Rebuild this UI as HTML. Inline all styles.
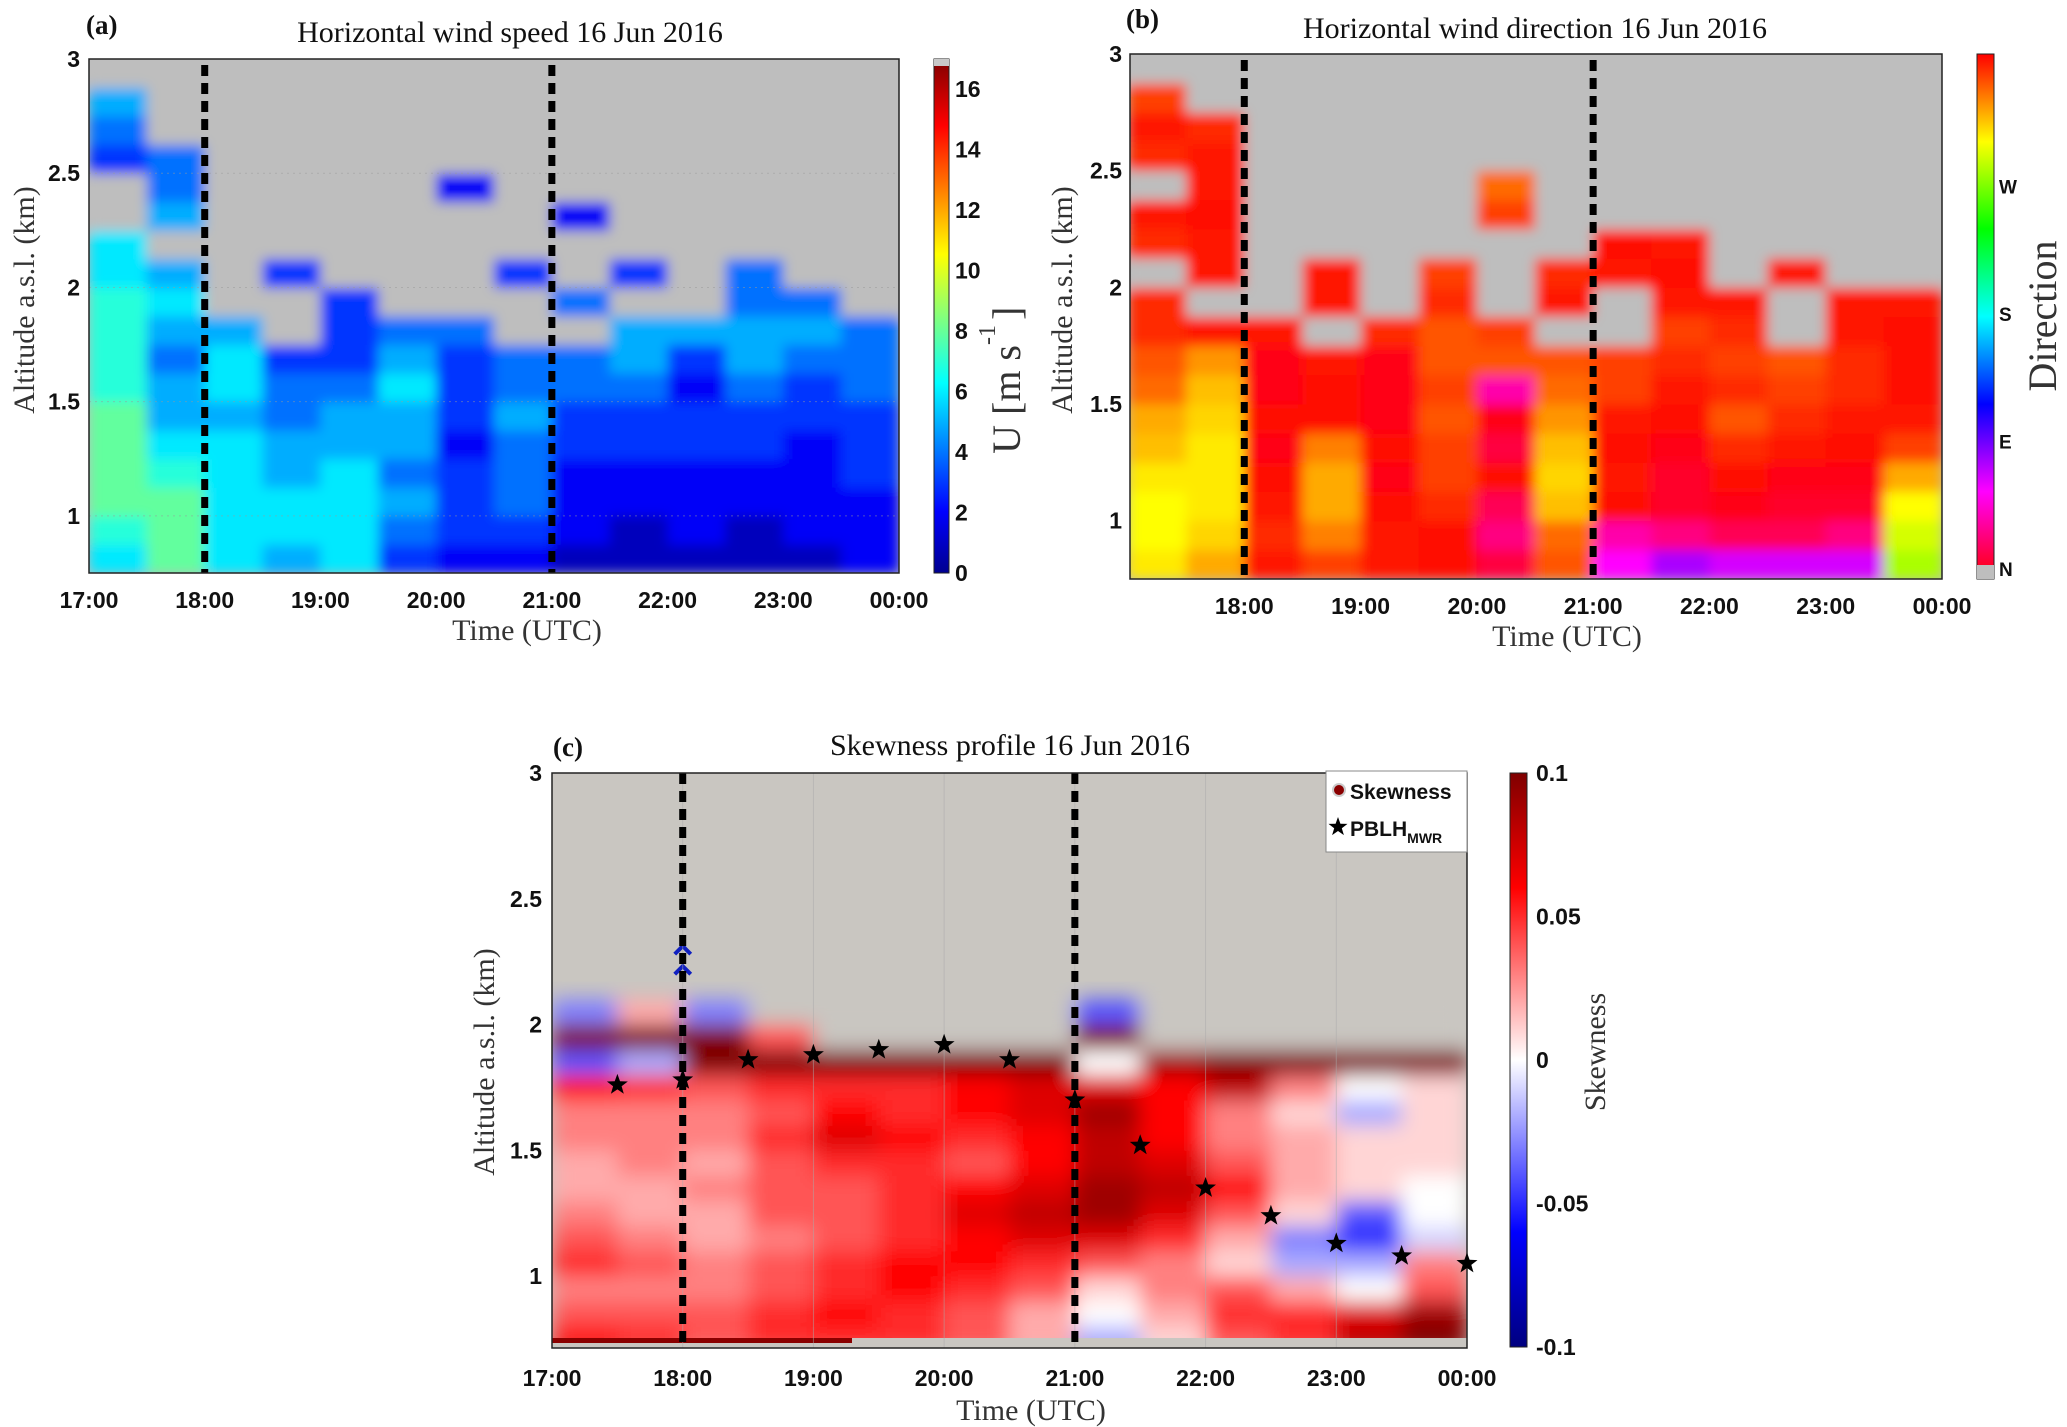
<!DOCTYPE html>
<html><head><meta charset="utf-8">
<style>
html,body{margin:0;padding:0;background:#fff;}
svg{display:block;}
.tk{font-family:"Liberation Sans",sans-serif;font-weight:bold;font-size:23px;fill:#111;}
.ttl{font-family:"Liberation Serif",serif;font-size:30px;fill:#111;}
.lab{font-family:"Liberation Serif",serif;font-size:30px;fill:#333;}
.pl{font-family:"Liberation Serif",serif;font-weight:bold;font-size:27px;fill:#111;}
</style></head>
<body>
<svg id="fig" width="2067" height="1427" viewBox="0 0 2067 1427" xmlns="http://www.w3.org/2000/svg">
<defs>
<clipPath id="clipA"><rect x="89" y="59" width="810" height="514"/></clipPath>
<clipPath id="clipB"><rect x="1130" y="54" width="812" height="525"/></clipPath>
<clipPath id="clipC"><rect x="552" y="773" width="915" height="575"/></clipPath>
<filter id="blA" x="-5%" y="-5%" width="110%" height="110%"><feGaussianBlur stdDeviation="6"/></filter>
<filter id="blC" x="-5%" y="-5%" width="110%" height="110%"><feGaussianBlur stdDeviation="10"/></filter>
<linearGradient id="jetGrad" x1="0" y1="1" x2="0" y2="0">
<stop offset="0" stop-color="#00008f"/><stop offset="0.12" stop-color="#0000ff"/><stop offset="0.37" stop-color="#00ffff"/><stop offset="0.62" stop-color="#ffff00"/><stop offset="0.87" stop-color="#ff0000"/><stop offset="1" stop-color="#800000"/>
</linearGradient>
<linearGradient id="hsvGrad" x1="0" y1="1" x2="0" y2="0">
<stop offset="0" stop-color="#ff0000"/><stop offset="0.167" stop-color="#ff00ff"/><stop offset="0.333" stop-color="#0000ff"/><stop offset="0.5" stop-color="#00ffff"/><stop offset="0.667" stop-color="#00ff00"/><stop offset="0.833" stop-color="#ffff00"/><stop offset="1" stop-color="#ff0000"/>
</linearGradient>
<linearGradient id="bwrGrad" x1="0" y1="1" x2="0" y2="0">
<stop offset="0" stop-color="#00007f"/><stop offset="0.2" stop-color="#0000ff"/><stop offset="0.5" stop-color="#ffffff"/><stop offset="0.8" stop-color="#ff0000"/><stop offset="1" stop-color="#7f0000"/>
</linearGradient>
</defs>
</svg>
<script>
// ---------- data ----------
const hours = ["17:00","18:00","19:00","20:00","21:00","22:00","23:00","00:00"];
const markerHours = [1, 4];
const altTicksAB = [1, 1.5, 2, 2.5, 3];
const altTicksC = [1, 1.5, 2, 2.5, 3];
const speedTicks = [0,2,4,6,8,10,12,14,16];
const dirTicks = ["N","E","S","W"];
const skewTicks = [-0.1,-0.05,0,0.05,0.1];
// wind speed (m/s), rows bottom(0.75km) to top(3km) step 0.125, cols 30-min from 17:00; -1 = no data
const speedRows = [
[6,8,6,5,6,3,2,2,1,1,1,1,1,2],
[7,8,6,6,6,4,3,3,2,1,2,1,2,2],
[8,8,6,6,6,5,3,4,2,2,2,2,2,2],
[8,7,6,5,6,4,3,4,2,2,2,2,2,3],
[8,6,6,5,5,5,2,4,3,3,3,3,2,3],
[8,5,5,4,5,5,3,5,3,3,3,3,3,3],
[7,5,6,4,4,6,3,4,4,4,2,4,3,4],
[7,4,6,3,3,5,3,4,4,5,3,5,4,4],
[7,5,5,-1,3,4,4,-1,-1,5,5,5,5,4],
[7,6,-1,-1,3,-1,-1,-1,4,-1,-1,4,4,-1],
[6,5,-1,3,-1,-1,-1,3,-1,3,-1,4,-1,-1],
[6,-1,-1,-1,-1,-1,-1,-1,-1,-1,-1,-1,-1,-1],
[-1,5,-1,-1,-1,-1,-1,-1,2,-1,-1,-1,-1,-1],
[-1,4,-1,-1,-1,-1,2,-1,-1,-1,-1,-1,-1,-1],
[3,4,-1,-1,-1,-1,-1,-1,-1,-1,-1,-1,-1,-1],
[4,-1,-1,-1,-1,-1,-1,-1,-1,-1,-1,-1,-1,-1],
[5,-1,-1,-1,-1,-1,-1,-1,-1,-1,-1,-1,-1,-1],
[-1,-1,-1,-1,-1,-1,-1,-1,-1,-1,-1,-1,-1,-1]
];
// wind direction (deg), same grid
const dirRows = [
[305,320,355,345,355,358,15,340,60,80,70,70,70,280],
[300,310,350,330,355,358,30,335,40,30,20,20,30,290],
[300,305,355,320,358,350,20,315,358,10,5,10,10,300],
[305,305,358,320,5,345,358,310,355,10,358,5,5,320],
[315,305,5,330,358,345,15,315,358,5,350,355,358,345],
[320,310,358,358,5,340,5,325,355,358,340,350,355,355],
[335,315,5,358,5,345,40,335,345,355,350,345,350,358],
[340,325,5,355,5,340,340,340,345,350,345,340,350,358],
[350,355,355,-1,350,340,345,-1,-1,345,350,-1,355,358],
[350,-1,-1,355,-1,350,-1,355,-1,355,355,-1,355,355],
[-1,355,-1,355,-1,345,-1,350,355,358,-1,355,-1,-1],
[350,355,-1,-1,-1,-1,-1,-1,358,355,-1,-1,-1,-1],
[355,358,-1,-1,-1,-1,345,-1,-1,-1,-1,-1,-1,-1],
[-1,355,-1,-1,-1,-1,335,-1,-1,-1,-1,-1,-1,-1],
[350,355,-1,-1,-1,-1,-1,-1,-1,-1,-1,-1,-1,-1],
[355,350,-1,-1,-1,-1,-1,-1,-1,-1,-1,-1,-1,-1],
[345,-1,-1,-1,-1,-1,-1,-1,-1,-1,-1,-1,-1,-1],
[-1,-1,-1,-1,-1,-1,-1,-1,-1,-1,-1,-1,-1,-1]
];
// skewness, rows bottom 0.7 km step 0.1 up to 2.1 km; null = no data
const skewRows = [
[0.06,0.05,0.04,0.05,0.05,0.05,0.04,0.02,-0.02,0.01,0.04,0.05,0.08,0.1],
[0.04,0.04,0.04,0.05,0.06,0.05,0.04,0.02,0.0,0.02,0.05,0.05,0.07,0.09],
[0.03,0.03,0.03,0.04,0.05,0.06,0.05,0.04,0.01,0.03,0.04,0.02,0.0,0.04],
[0.05,0.04,0.03,0.04,0.05,0.06,0.06,0.05,0.04,0.03,0.01,-0.02,-0.02,0.03],
[0.04,0.03,0.02,0.03,0.04,0.05,0.06,0.07,0.07,0.05,0.02,-0.03,-0.05,-0.01],
[0.03,0.02,0.02,0.04,0.04,0.05,0.07,0.08,0.09,0.07,0.04,0.01,-0.04,0.0],
[0.02,0.02,0.03,0.04,0.04,0.05,0.06,0.07,0.09,0.08,0.06,0.02,0.01,0.0],
[0.02,0.03,0.02,0.04,0.05,0.05,0.04,0.06,0.08,0.07,0.04,0.02,0.01,0.01],
[0.03,0.03,0.03,0.05,0.07,0.06,0.05,0.06,0.08,0.06,0.03,0.02,0.01,0.01],
[0.03,0.03,0.03,0.04,0.06,0.05,0.06,0.07,0.09,0.06,0.03,0.01,-0.02,0.01],
[0.06,0.05,0.04,0.05,0.05,0.05,0.06,0.07,0.07,0.06,0.08,0.03,0.0,0.01],
[-0.04,-0.02,0.1,0.1,0.1,0.1,0.1,0.1,0.0,0.09,0.1,0.1,0.1,0.1],
[0.1,0.1,0.1,0.04,null,null,null,null,0.1,null,null,null,null,null],
[-0.03,0.02,-0.03,null,null,null,null,null,-0.04,null,null,null,null,null]
];
const starTimes = [0.5,1,1.5,2,2.5,3,3.5,4,4.5,5,5.5,6,6.5,7];
const starAlts = [1.76,1.78,1.86,1.88,1.9,1.92,1.86,1.70,1.52,1.35,1.24,1.13,1.08,1.05];

// ---------- helpers ----------
const NS="http://www.w3.org/2000/svg";
const svg=document.getElementById('fig');
function mk(tag,attrs,parent){const e=document.createElementNS(NS,tag);for(const k in attrs)e.setAttribute(k,attrs[k]);(parent||svg).appendChild(e);return e;}
function clamp(v){return Math.max(0,Math.min(1,v));}
function jet(t){return `rgb(${Math.round(255*clamp(1.5-Math.abs(4*t-3)))},${Math.round(255*clamp(1.5-Math.abs(4*t-2)))},${Math.round(255*clamp(1.5-Math.abs(4*t-1)))})`;}
function hsvDir(deg){const h=((360-deg)%360+360)%360;const c=1,x=1-Math.abs((h/60)%2-1);let r,g,b;
 if(h<60){r=c;g=x;b=0}else if(h<120){r=x;g=c;b=0}else if(h<180){r=0;g=c;b=x}else if(h<240){r=0;g=x;b=c}else if(h<300){r=x;g=0;b=c}else{r=c;g=0;b=x}
 return `rgb(${Math.round(r*255)},${Math.round(g*255)},${Math.round(b*255)})`;}
function bwr(v){const t=v/0.1;let r,g,b;
 if(t>=0){ if(t<0.6){const s=t/0.6;r=1;g=1-s;b=1-s;} else {const s=(t-0.6)/0.4;r=1-0.5*s;g=0;b=0;} }
 else { const a=-t; if(a<0.6){const s=a/0.6;r=1-s;g=1-s;b=1;} else {const s=(a-0.6)/0.4;r=0;g=0;b=1-0.5*s;} }
 return `rgb(${Math.round(r*255)},${Math.round(g*255)},${Math.round(b*255)})`;}

function panel(cfg){
 const {x0,x1,y0,y1,amin,amax}=cfg;
 const X=h=>x0+(h/7)*(x1-x0);
 const Y=a=>y1-(a-amin)/(amax-amin)*(y1-y0);
 return {X,Y};
}
function heat(g,rows,rowStart,rowStep,P,colorFn,isNull,gray){
 const nC=rows[0].length, cw=7/nC;
 rows.forEach((row,ri)=>{
  row.forEach((v,ci)=>{
   const xa=P.X(ci*cw), xb=P.X((ci+1)*cw);
   const ya=P.Y(rowStart+(ri+1)*rowStep), yb=P.Y(rowStart+ri*rowStep);
   const r=mk('rect',{x:xa,y:ya,width:xb-xa+0.5,height:yb-ya+0.5,fill:isNull(v)?gray:colorFn(v)},g);
   
   
  });
 });
}
function txt(s,attrs,cls,name){const t=mk('text',Object.assign({class:cls},attrs));t.textContent=s;return t;}
function dashed(P,y0,y1,name){markerHours.forEach(h=>{const l=mk('line',{x1:P.X(h),x2:P.X(h),y1:y0,y2:y1,stroke:'#000','stroke-width':7,'stroke-dasharray':'11 7'});});}

// ---------- Panel A ----------
(function(){
 const c={x0:89,x1:899,y0:59,y1:573,amin:0.75,amax:3};
 const P=panel(c);
 const g=mk('g',{'clip-path':'url(#clipA)'});
 mk('rect',{x:89,y:59,width:810,height:514,fill:'#bebebe'},g);
 const gb=mk('g',{filter:'url(#blA)'},g);
 heat(gb,speedRows,0.75,0.125,P,v=>jet(v/17),v=>v<0,'#bebebe');
 altTicksAB.forEach(a=>{mk('line',{x1:89,x2:899,y1:P.Y(a),y2:P.Y(a),stroke:'#999','stroke-width':1,'stroke-dasharray':'2 4',opacity:0.5},g);});
 dashed(P,65,573,'marker-line-a');
 mk('rect',{x:89,y:59,width:810,height:514,fill:'none',stroke:'#222','stroke-width':1.5});
 hours.forEach((h,i)=>{txt(h,{x:P.X(i),y:608,'text-anchor':'middle'},'tk','x-tick-label-a');});
 altTicksAB.forEach(a=>{txt(String(a),{x:80,y:P.Y(a)+8,'text-anchor':'end'},'tk','y-tick-label-a');});
 txt('Horizontal wind speed 16 Jun 2016',{x:510,y:42,'text-anchor':'middle'},'ttl','title-a');
 txt('(a)',{x:86,y:34},'pl','panel-label-a');
 txt('Time (UTC)',{x:527,y:640,'text-anchor':'middle'},'lab','x-axis-title-a');
 txt('Altitude a.s.l.  (km)',{x:0,y:0,'text-anchor':'middle',transform:'translate(34,300) rotate(-90)'},'lab','y-axis-title-a');
 const cb=mk('rect',{x:934,y:59,width:15,height:514,fill:'url(#jetGrad)',stroke:'#222','stroke-width':1});
 mk('rect',{x:934,y:59,width:15,height:7,fill:'#c8c8c8'});
 speedTicks.forEach(s=>{const y=573-s/17*514;txt(String(s),{x:955,y:y+8},'tk','colorbar-tick-a');});
 txt('U [m s',{x:0,y:0,'text-anchor':'end',transform:'translate(1020,345) rotate(-90)',style:'font-size:40px'},'lab','colorbar-title-a');
 txt('-1',{x:0,y:0,transform:'translate(995,345) rotate(-90)',style:'font-size:24px'},'lab','colorbar-title-exp-a');
 txt(']',{x:0,y:0,transform:'translate(1020,320) rotate(-90)',style:'font-size:40px'},'lab','colorbar-title-bracket-a');
})();

// ---------- Panel B ----------
(function(){
 const c={x0:1128,x1:1942,y0:54,y1:579,amin:0.75,amax:3};
 const P=panel(c);
 const g=mk('g',{'clip-path':'url(#clipB)'});
 mk('rect',{x:1128,y:54,width:814,height:525,fill:'#bebebe'},g);
 const gb=mk('g',{filter:'url(#blA)'},g);
 heat(gb,dirRows,0.75,0.125,P,hsvDir,v=>v<0,'#bebebe');
 dashed(P,60,579,'marker-line-b');
 mk('rect',{x:1130,y:54,width:812,height:525,fill:'none',stroke:'#222','stroke-width':1.5});
 hours.forEach((h,i)=>{if(i>0)txt(h,{x:P.X(i),y:614,'text-anchor':'middle'},'tk','x-tick-label-b');});
 altTicksAB.forEach(a=>{txt(String(a),{x:1122,y:P.Y(a)+8,'text-anchor':'end'},'tk','y-tick-label-b');});
 txt('Horizontal wind direction 16 Jun 2016',{x:1535,y:38,'text-anchor':'middle'},'ttl','title-b');
 txt('(b)',{x:1126,y:28},'pl','panel-label-b');
 txt('Time (UTC)',{x:1567,y:646,'text-anchor':'middle'},'lab','x-axis-title-b');
 txt('Altitude a.s.l.  (km)',{x:0,y:0,'text-anchor':'middle',transform:'translate(1072,300) rotate(-90)'},'lab','y-axis-title-b');
 const cb=mk('rect',{x:1977,y:54,width:17,height:525,fill:'url(#hsvGrad)',stroke:'#222','stroke-width':1});
 mk('rect',{x:1977,y:565,width:17,height:14,fill:'#bebebe'});
 dirTicks.forEach((d,i)=>{const y=568-i*127.5;txt(d,{x:1999,y:y+8,style:'font-size:19px'},'tk','colorbar-tick-b');});
 txt('Direction',{x:0,y:0,'text-anchor':'middle',transform:'translate(2056,316) rotate(-90)',style:'font-size:40px'},'lab','colorbar-title-b');
})();

// ---------- Panel C ----------
(function(){
 const c={x0:552,x1:1467,y0:773,y1:1348,amin:0.714,amax:3};
 const P=panel(c);
 const g=mk('g',{'clip-path':'url(#clipC)'});
 mk('rect',{x:552,y:773,width:915,height:575,fill:'#c9c6c1'},g);
 const gb=mk('g',{filter:'url(#blC)'},g);
 heat(gb,skewRows,0.7,0.1,P,bwr,v=>v===null,'#c9c6c1');
 mk('rect',{x:552,y:1338,width:915,height:10,fill:'#c9c6c1'},g);
 mk('rect',{x:552,y:1338,width:300,height:5,fill:'#8a0000'},g);
 mk('path',{d:`M${P.X(1)-8},${P.Y(2.28)} l8,-8 l8,8 M${P.X(1)-8},${P.Y(2.2)} l8,-8 l8,8`,stroke:'#1020c0','stroke-width':4,fill:'none'},g);
 hours.forEach((h,i)=>{if(i>0&&i<7)mk('line',{x1:P.X(i),x2:P.X(i),y1:773,y2:1348,stroke:'#aaa','stroke-width':1,opacity:0.5},g);});
 dashed(P,773,1348,'marker-line-c');
 mk('rect',{x:552,y:773,width:915,height:575,fill:'none',stroke:'#222','stroke-width':1.5});
 starTimes.forEach((t,i)=>{
  const cx=P.X(t),cy=P.Y(starAlts[i]);let d='';
  for(let k=0;k<10;k++){const r=k%2?4.5:11;const a=-Math.PI/2+k*Math.PI/5;d+=(k?'L':'M')+(cx+r*Math.cos(a)).toFixed(1)+','+(cy+r*Math.sin(a)).toFixed(1);}
  const s=mk('path',{d:d+'Z',fill:'#000'});
  
  
 });
 hours.forEach((h,i)=>{txt(h,{x:P.X(i),y:1386,'text-anchor':'middle'},'tk','x-tick-label-c');});
 altTicksC.forEach(a=>{txt(String(a),{x:542,y:P.Y(a)+8,'text-anchor':'end'},'tk','y-tick-label-c');});
 txt('Skewness profile 16 Jun 2016',{x:1010,y:755,'text-anchor':'middle'},'ttl','title-c');
 txt('(c)',{x:553,y:756},'pl','panel-label-c');
 txt('Time (UTC)',{x:1031,y:1420,'text-anchor':'middle'},'lab','x-axis-title-c');
 txt('Altitude a.s.l.  (km)',{x:0,y:0,'text-anchor':'middle',transform:'translate(494,1062) rotate(-90)'},'lab','y-axis-title-c');
 const lg=mk('g',{});
 mk('rect',{x:1326,y:771,width:141,height:81,fill:'#fff',stroke:'#888','stroke-width':1},lg);
 mk('circle',{cx:1339,cy:790,r:6,fill:'#8a0000',stroke:'#ccc','stroke-width':2},lg);
 const t1=mk('text',{x:1350,y:799,class:'tk',style:'font-size:21px'},lg);t1.textContent='Skewness';
 
 const t2=mk('text',{x:1350,y:836,class:'tk',style:'font-size:21px'},lg);t2.innerHTML='PBLH<tspan dy="7" style="font-size:14px">MWR</tspan>';
 
 let d='';const cx=1338,cy=827;for(let k=0;k<10;k++){const r=k%2?4:10;const a=-Math.PI/2+k*Math.PI/5;d+=(k?'L':'M')+(cx+r*Math.cos(a)).toFixed(1)+','+(cy+r*Math.sin(a)).toFixed(1);}
 mk('path',{d:d+'Z',fill:'#000'},lg);
 const cb=mk('rect',{x:1510,y:773,width:17,height:574,fill:'url(#bwrGrad)',stroke:'#222','stroke-width':1});
 skewTicks.forEach(s=>{const y=1347-(s+0.1)/0.2*574;txt(String(s),{x:1536,y:y+8},'tk','colorbar-tick-c');});
 txt('Skewness',{x:0,y:0,'text-anchor':'middle',transform:'translate(1605,1052) rotate(-90)'},'lab','colorbar-title-c');
})();
</script>
</body></html>
